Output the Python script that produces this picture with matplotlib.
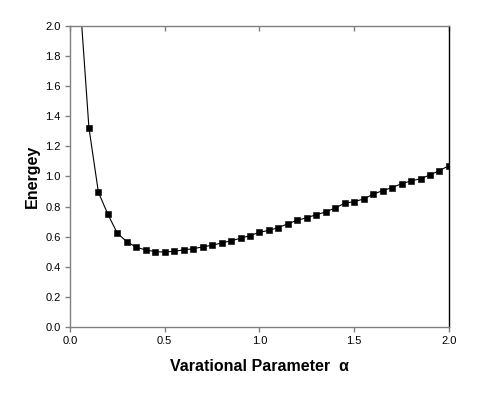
import matplotlib
matplotlib.use("Agg")
import matplotlib.pyplot as plt
import numpy as np

plt.rcParams['font.family'] = ['Liberation Sans', 'DejaVu Sans']

# variational parameter alpha and energy
alpha = [0.05, 0.10, 0.15, 0.20, 0.25, 0.30, 0.35, 0.40, 0.45, 0.50,
         0.55, 0.60, 0.65, 0.70, 0.75, 0.80, 0.85, 0.90, 0.95, 1.00,
         1.05, 1.10, 1.15, 1.20, 1.25, 1.30, 1.35, 1.40, 1.45, 1.50,
         1.55, 1.60, 1.65, 1.70, 1.75, 1.80, 1.85, 1.90, 1.95, 2.00]
energy = [2.22, 1.324, 0.895, 0.749, 0.622, 0.567, 0.529, 0.512, 0.500, 0.498,
          0.503, 0.512, 0.520, 0.532, 0.543, 0.558, 0.573, 0.589, 0.607, 0.629,
          0.642, 0.660, 0.686, 0.709, 0.726, 0.746, 0.764, 0.791, 0.822, 0.833,
          0.850, 0.882, 0.906, 0.926, 0.952, 0.970, 0.985, 1.010, 1.039, 1.072]

fig = plt.figure(figsize=(4.89, 3.93), dpi=100)
ax = fig.add_axes([0.1431, 0.168, 0.775, 0.766])

ax.plot(alpha, energy, color='black', lw=0.8, marker='s', ms=4.6, mew=0.4,
        mec='black', mfc='black')

ax.set_xlim(0, 2.0)
ax.set_ylim(0, 2.0)
ax.set_xticks(np.arange(0, 2.01, 0.5))
ax.set_yticks(np.arange(0, 2.01, 0.2))

for s in ['left', 'bottom', 'top']:
    ax.spines[s].set_color('#808080')
    ax.spines[s].set_linewidth(1.0)
ax.spines['right'].set_color('black')
ax.spines['right'].set_linewidth(1.0)

ax.tick_params(axis='both', direction='out', length=3.6, width=1.0,
               color='#808080', labelsize=8, pad=3)

# inward ticks on the top edge
top = ax.secondary_xaxis('top')
top.set_xticks(np.arange(0, 2.01, 0.5))
top.tick_params(direction='in', length=3.6, width=1.0, color='#808080',
                labeltop=False)
top.spines['top'].set_visible(False)

ax.set_ylabel('Energey', fontsize=11.5, fontweight='bold', labelpad=4)
ax.set_xlabel('Varational Parameter  \u03b1', fontsize=11.5, fontweight='bold',
              labelpad=9)

fig.savefig('out.png', dpi=100)
